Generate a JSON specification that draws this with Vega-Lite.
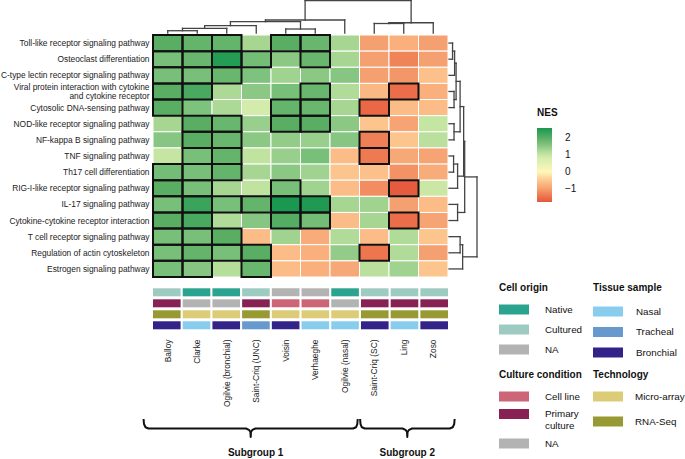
{
  "$schema": "https://vega.github.io/schema/vega-lite/v6.json",
  "width": 295,
  "height": 242,
  "autosize": {"type": "none"},
  "padding": {"left": 153, "top": 35, "right": 237, "bottom": 182},
  "background": "white",
  "config": {
    "view": {"stroke": null},
    "font": "Liberation Sans",
    "legend": {"titleFontSize": 10, "labelFontSize": 9.8, "titleColor": "#111", "labelColor": "#111", "padding": 0, "titleFontWeight": "bold"}
  },
  "datasets": {
    "heat": [
      {"pathway": "Toll-like receptor signaling pathway", "study": "Balloy", "NES": 2.0, "sig": 1},
      {"pathway": "Toll-like receptor signaling pathway", "study": "Clarke", "NES": 1.9, "sig": 1},
      {"pathway": "Toll-like receptor signaling pathway", "study": "Ogilvie (bronchial)", "NES": 1.9, "sig": 1},
      {"pathway": "Toll-like receptor signaling pathway", "study": "Saint-Criq (UNC)", "NES": 1.3, "sig": 0},
      {"pathway": "Toll-like receptor signaling pathway", "study": "Voisin", "NES": 2.0, "sig": 1},
      {"pathway": "Toll-like receptor signaling pathway", "study": "Verhaeghe", "NES": 1.85, "sig": 1},
      {"pathway": "Toll-like receptor signaling pathway", "study": "Ogilvie (nasal)", "NES": 1.3, "sig": 0},
      {"pathway": "Toll-like receptor signaling pathway", "study": "Saint-Criq (SC)", "NES": -1.0, "sig": 0},
      {"pathway": "Toll-like receptor signaling pathway", "study": "Ling", "NES": -0.8, "sig": 0},
      {"pathway": "Toll-like receptor signaling pathway", "study": "Zoso", "NES": -1.0, "sig": 0},
      {"pathway": "Osteoclast differentiation", "study": "Balloy", "NES": 1.7, "sig": 1},
      {"pathway": "Osteoclast differentiation", "study": "Clarke", "NES": 1.85, "sig": 1},
      {"pathway": "Osteoclast differentiation", "study": "Ogilvie (bronchial)", "NES": 2.5, "sig": 1},
      {"pathway": "Osteoclast differentiation", "study": "Saint-Criq (UNC)", "NES": 1.75, "sig": 1},
      {"pathway": "Osteoclast differentiation", "study": "Voisin", "NES": 1.5, "sig": 0},
      {"pathway": "Osteoclast differentiation", "study": "Verhaeghe", "NES": 1.85, "sig": 1},
      {"pathway": "Osteoclast differentiation", "study": "Ogilvie (nasal)", "NES": 1.3, "sig": 0},
      {"pathway": "Osteoclast differentiation", "study": "Saint-Criq (SC)", "NES": -1.0, "sig": 0},
      {"pathway": "Osteoclast differentiation", "study": "Ling", "NES": -1.3, "sig": 0},
      {"pathway": "Osteoclast differentiation", "study": "Zoso", "NES": -1.0, "sig": 0},
      {"pathway": "C-type lectin receptor signaling pathway", "study": "Balloy", "NES": 1.7, "sig": 1},
      {"pathway": "C-type lectin receptor signaling pathway", "study": "Clarke", "NES": 1.7, "sig": 1},
      {"pathway": "C-type lectin receptor signaling pathway", "study": "Ogilvie (bronchial)", "NES": 1.85, "sig": 1},
      {"pathway": "C-type lectin receptor signaling pathway", "study": "Saint-Criq (UNC)", "NES": 1.65, "sig": 0},
      {"pathway": "C-type lectin receptor signaling pathway", "study": "Voisin", "NES": 1.35, "sig": 0},
      {"pathway": "C-type lectin receptor signaling pathway", "study": "Verhaeghe", "NES": 1.5, "sig": 0},
      {"pathway": "C-type lectin receptor signaling pathway", "study": "Ogilvie (nasal)", "NES": 1.55, "sig": 0},
      {"pathway": "C-type lectin receptor signaling pathway", "study": "Saint-Criq (SC)", "NES": -1.0, "sig": 0},
      {"pathway": "C-type lectin receptor signaling pathway", "study": "Ling", "NES": -1.1, "sig": 0},
      {"pathway": "C-type lectin receptor signaling pathway", "study": "Zoso", "NES": -0.6, "sig": 0},
      {"pathway": "Viral protein interaction with cytokine and cytokine receptor", "study": "Balloy", "NES": 2.0, "sig": 1},
      {"pathway": "Viral protein interaction with cytokine and cytokine receptor", "study": "Clarke", "NES": 2.15, "sig": 1},
      {"pathway": "Viral protein interaction with cytokine and cytokine receptor", "study": "Ogilvie (bronchial)", "NES": 1.25, "sig": 0},
      {"pathway": "Viral protein interaction with cytokine and cytokine receptor", "study": "Saint-Criq (UNC)", "NES": 1.5, "sig": 0},
      {"pathway": "Viral protein interaction with cytokine and cytokine receptor", "study": "Voisin", "NES": 1.7, "sig": 0},
      {"pathway": "Viral protein interaction with cytokine and cytokine receptor", "study": "Verhaeghe", "NES": 1.85, "sig": 1},
      {"pathway": "Viral protein interaction with cytokine and cytokine receptor", "study": "Ogilvie (nasal)", "NES": 1.2, "sig": 0},
      {"pathway": "Viral protein interaction with cytokine and cytokine receptor", "study": "Saint-Criq (SC)", "NES": -0.7, "sig": 0},
      {"pathway": "Viral protein interaction with cytokine and cytokine receptor", "study": "Ling", "NES": -1.55, "sig": 1},
      {"pathway": "Viral protein interaction with cytokine and cytokine receptor", "study": "Zoso", "NES": -0.8, "sig": 0},
      {"pathway": "Cytosolic DNA-sensing pathway", "study": "Balloy", "NES": 2.0, "sig": 1},
      {"pathway": "Cytosolic DNA-sensing pathway", "study": "Clarke", "NES": 1.65, "sig": 0},
      {"pathway": "Cytosolic DNA-sensing pathway", "study": "Ogilvie (bronchial)", "NES": 1.25, "sig": 0},
      {"pathway": "Cytosolic DNA-sensing pathway", "study": "Saint-Criq (UNC)", "NES": 0.85, "sig": 0},
      {"pathway": "Cytosolic DNA-sensing pathway", "study": "Voisin", "NES": 1.9, "sig": 1},
      {"pathway": "Cytosolic DNA-sensing pathway", "study": "Verhaeghe", "NES": 1.85, "sig": 1},
      {"pathway": "Cytosolic DNA-sensing pathway", "study": "Ogilvie (nasal)", "NES": 1.3, "sig": 0},
      {"pathway": "Cytosolic DNA-sensing pathway", "study": "Saint-Criq (SC)", "NES": -1.6, "sig": 1},
      {"pathway": "Cytosolic DNA-sensing pathway", "study": "Ling", "NES": -0.65, "sig": 0},
      {"pathway": "Cytosolic DNA-sensing pathway", "study": "Zoso", "NES": -0.65, "sig": 0},
      {"pathway": "NOD-like receptor signaling pathway", "study": "Balloy", "NES": 1.3, "sig": 0},
      {"pathway": "NOD-like receptor signaling pathway", "study": "Clarke", "NES": 2.0, "sig": 1},
      {"pathway": "NOD-like receptor signaling pathway", "study": "Ogilvie (bronchial)", "NES": 1.85, "sig": 1},
      {"pathway": "NOD-like receptor signaling pathway", "study": "Saint-Criq (UNC)", "NES": 1.4, "sig": 0},
      {"pathway": "NOD-like receptor signaling pathway", "study": "Voisin", "NES": 2.0, "sig": 1},
      {"pathway": "NOD-like receptor signaling pathway", "study": "Verhaeghe", "NES": 2.0, "sig": 1},
      {"pathway": "NOD-like receptor signaling pathway", "study": "Ogilvie (nasal)", "NES": 1.5, "sig": 0},
      {"pathway": "NOD-like receptor signaling pathway", "study": "Saint-Criq (SC)", "NES": -0.55, "sig": 0},
      {"pathway": "NOD-like receptor signaling pathway", "study": "Ling", "NES": -0.95, "sig": 0},
      {"pathway": "NOD-like receptor signaling pathway", "study": "Zoso", "NES": 1.0, "sig": 0},
      {"pathway": "NF-kappa B signaling pathway", "study": "Balloy", "NES": 1.55, "sig": 0},
      {"pathway": "NF-kappa B signaling pathway", "study": "Clarke", "NES": 2.0, "sig": 1},
      {"pathway": "NF-kappa B signaling pathway", "study": "Ogilvie (bronchial)", "NES": 1.85, "sig": 1},
      {"pathway": "NF-kappa B signaling pathway", "study": "Saint-Criq (UNC)", "NES": 1.5, "sig": 0},
      {"pathway": "NF-kappa B signaling pathway", "study": "Voisin", "NES": 1.45, "sig": 0},
      {"pathway": "NF-kappa B signaling pathway", "study": "Verhaeghe", "NES": 1.4, "sig": 0},
      {"pathway": "NF-kappa B signaling pathway", "study": "Ogilvie (nasal)", "NES": 1.55, "sig": 0},
      {"pathway": "NF-kappa B signaling pathway", "study": "Saint-Criq (SC)", "NES": -1.35, "sig": 1},
      {"pathway": "NF-kappa B signaling pathway", "study": "Ling", "NES": -0.55, "sig": 0},
      {"pathway": "NF-kappa B signaling pathway", "study": "Zoso", "NES": 1.1, "sig": 0},
      {"pathway": "TNF signaling pathway", "study": "Balloy", "NES": 1.0, "sig": 0},
      {"pathway": "TNF signaling pathway", "study": "Clarke", "NES": 1.7, "sig": 1},
      {"pathway": "TNF signaling pathway", "study": "Ogilvie (bronchial)", "NES": 1.9, "sig": 1},
      {"pathway": "TNF signaling pathway", "study": "Saint-Criq (UNC)", "NES": 1.05, "sig": 0},
      {"pathway": "TNF signaling pathway", "study": "Voisin", "NES": 1.4, "sig": 0},
      {"pathway": "TNF signaling pathway", "study": "Verhaeghe", "NES": 1.7, "sig": 0},
      {"pathway": "TNF signaling pathway", "study": "Ogilvie (nasal)", "NES": -0.65, "sig": 0},
      {"pathway": "TNF signaling pathway", "study": "Saint-Criq (SC)", "NES": -1.4, "sig": 1},
      {"pathway": "TNF signaling pathway", "study": "Ling", "NES": -0.9, "sig": 0},
      {"pathway": "TNF signaling pathway", "study": "Zoso", "NES": -0.95, "sig": 0},
      {"pathway": "Th17 cell differentiation", "study": "Balloy", "NES": 1.75, "sig": 1},
      {"pathway": "Th17 cell differentiation", "study": "Clarke", "NES": 1.7, "sig": 1},
      {"pathway": "Th17 cell differentiation", "study": "Ogilvie (bronchial)", "NES": 1.9, "sig": 1},
      {"pathway": "Th17 cell differentiation", "study": "Saint-Criq (UNC)", "NES": 1.3, "sig": 0},
      {"pathway": "Th17 cell differentiation", "study": "Voisin", "NES": 1.5, "sig": 0},
      {"pathway": "Th17 cell differentiation", "study": "Verhaeghe", "NES": 1.35, "sig": 0},
      {"pathway": "Th17 cell differentiation", "study": "Ogilvie (nasal)", "NES": -0.55, "sig": 0},
      {"pathway": "Th17 cell differentiation", "study": "Saint-Criq (SC)", "NES": -0.6, "sig": 0},
      {"pathway": "Th17 cell differentiation", "study": "Ling", "NES": -1.15, "sig": 0},
      {"pathway": "Th17 cell differentiation", "study": "Zoso", "NES": -0.85, "sig": 0},
      {"pathway": "RIG-I-like receptor signaling pathway", "study": "Balloy", "NES": 2.0, "sig": 1},
      {"pathway": "RIG-I-like receptor signaling pathway", "study": "Clarke", "NES": 1.7, "sig": 1},
      {"pathway": "RIG-I-like receptor signaling pathway", "study": "Ogilvie (bronchial)", "NES": 1.3, "sig": 0},
      {"pathway": "RIG-I-like receptor signaling pathway", "study": "Saint-Criq (UNC)", "NES": 1.05, "sig": 0},
      {"pathway": "RIG-I-like receptor signaling pathway", "study": "Voisin", "NES": 1.7, "sig": 1},
      {"pathway": "RIG-I-like receptor signaling pathway", "study": "Verhaeghe", "NES": 1.35, "sig": 0},
      {"pathway": "RIG-I-like receptor signaling pathway", "study": "Ogilvie (nasal)", "NES": -0.65, "sig": 0},
      {"pathway": "RIG-I-like receptor signaling pathway", "study": "Saint-Criq (SC)", "NES": -1.2, "sig": 0},
      {"pathway": "RIG-I-like receptor signaling pathway", "study": "Ling", "NES": -1.75, "sig": 1},
      {"pathway": "RIG-I-like receptor signaling pathway", "study": "Zoso", "NES": 0.95, "sig": 0},
      {"pathway": "IL-17 signaling pathway", "study": "Balloy", "NES": 1.7, "sig": 1},
      {"pathway": "IL-17 signaling pathway", "study": "Clarke", "NES": 2.3, "sig": 1},
      {"pathway": "IL-17 signaling pathway", "study": "Ogilvie (bronchial)", "NES": 1.7, "sig": 1},
      {"pathway": "IL-17 signaling pathway", "study": "Saint-Criq (UNC)", "NES": 1.9, "sig": 1},
      {"pathway": "IL-17 signaling pathway", "study": "Voisin", "NES": 2.6, "sig": 1},
      {"pathway": "IL-17 signaling pathway", "study": "Verhaeghe", "NES": 2.55, "sig": 1},
      {"pathway": "IL-17 signaling pathway", "study": "Ogilvie (nasal)", "NES": 1.3, "sig": 0},
      {"pathway": "IL-17 signaling pathway", "study": "Saint-Criq (SC)", "NES": 1.35, "sig": 0},
      {"pathway": "IL-17 signaling pathway", "study": "Ling", "NES": -1.0, "sig": 0},
      {"pathway": "IL-17 signaling pathway", "study": "Zoso", "NES": -0.65, "sig": 0},
      {"pathway": "Cytokine-cytokine receptor interaction", "study": "Balloy", "NES": 2.0, "sig": 1},
      {"pathway": "Cytokine-cytokine receptor interaction", "study": "Clarke", "NES": 2.15, "sig": 1},
      {"pathway": "Cytokine-cytokine receptor interaction", "study": "Ogilvie (bronchial)", "NES": 1.2, "sig": 0},
      {"pathway": "Cytokine-cytokine receptor interaction", "study": "Saint-Criq (UNC)", "NES": 1.55, "sig": 0},
      {"pathway": "Cytokine-cytokine receptor interaction", "study": "Voisin", "NES": 2.05, "sig": 1},
      {"pathway": "Cytokine-cytokine receptor interaction", "study": "Verhaeghe", "NES": 1.75, "sig": 1},
      {"pathway": "Cytokine-cytokine receptor interaction", "study": "Ogilvie (nasal)", "NES": -0.65, "sig": 0},
      {"pathway": "Cytokine-cytokine receptor interaction", "study": "Saint-Criq (SC)", "NES": 1.3, "sig": 0},
      {"pathway": "Cytokine-cytokine receptor interaction", "study": "Ling", "NES": -1.55, "sig": 1},
      {"pathway": "Cytokine-cytokine receptor interaction", "study": "Zoso", "NES": -0.95, "sig": 0},
      {"pathway": "T cell receptor signaling pathway", "study": "Balloy", "NES": 1.7, "sig": 1},
      {"pathway": "T cell receptor signaling pathway", "study": "Clarke", "NES": 1.7, "sig": 1},
      {"pathway": "T cell receptor signaling pathway", "study": "Ogilvie (bronchial)", "NES": 2.0, "sig": 1},
      {"pathway": "T cell receptor signaling pathway", "study": "Saint-Criq (UNC)", "NES": -0.65, "sig": 0},
      {"pathway": "T cell receptor signaling pathway", "study": "Voisin", "NES": 1.35, "sig": 0},
      {"pathway": "T cell receptor signaling pathway", "study": "Verhaeghe", "NES": -0.85, "sig": 0},
      {"pathway": "T cell receptor signaling pathway", "study": "Ogilvie (nasal)", "NES": 1.2, "sig": 0},
      {"pathway": "T cell receptor signaling pathway", "study": "Saint-Criq (SC)", "NES": -0.65, "sig": 0},
      {"pathway": "T cell receptor signaling pathway", "study": "Ling", "NES": 1.2, "sig": 0},
      {"pathway": "T cell receptor signaling pathway", "study": "Zoso", "NES": -0.55, "sig": 0},
      {"pathway": "Regulation of actin cytoskeleton", "study": "Balloy", "NES": 1.7, "sig": 1},
      {"pathway": "Regulation of actin cytoskeleton", "study": "Clarke", "NES": 1.9, "sig": 1},
      {"pathway": "Regulation of actin cytoskeleton", "study": "Ogilvie (bronchial)", "NES": 1.7, "sig": 1},
      {"pathway": "Regulation of actin cytoskeleton", "study": "Saint-Criq (UNC)", "NES": 2.0, "sig": 1},
      {"pathway": "Regulation of actin cytoskeleton", "study": "Voisin", "NES": -0.65, "sig": 0},
      {"pathway": "Regulation of actin cytoskeleton", "study": "Verhaeghe", "NES": -0.8, "sig": 0},
      {"pathway": "Regulation of actin cytoskeleton", "study": "Ogilvie (nasal)", "NES": 1.45, "sig": 0},
      {"pathway": "Regulation of actin cytoskeleton", "study": "Saint-Criq (SC)", "NES": -1.45, "sig": 1},
      {"pathway": "Regulation of actin cytoskeleton", "study": "Ling", "NES": 1.2, "sig": 0},
      {"pathway": "Regulation of actin cytoskeleton", "study": "Zoso", "NES": -1.0, "sig": 0},
      {"pathway": "Estrogen signaling pathway", "study": "Balloy", "NES": 1.7, "sig": 1},
      {"pathway": "Estrogen signaling pathway", "study": "Clarke", "NES": 1.55, "sig": 1},
      {"pathway": "Estrogen signaling pathway", "study": "Ogilvie (bronchial)", "NES": 1.15, "sig": 0},
      {"pathway": "Estrogen signaling pathway", "study": "Saint-Criq (UNC)", "NES": 1.85, "sig": 1},
      {"pathway": "Estrogen signaling pathway", "study": "Voisin", "NES": -0.65, "sig": 0},
      {"pathway": "Estrogen signaling pathway", "study": "Verhaeghe", "NES": -0.8, "sig": 0},
      {"pathway": "Estrogen signaling pathway", "study": "Ogilvie (nasal)", "NES": -0.9, "sig": 0},
      {"pathway": "Estrogen signaling pathway", "study": "Saint-Criq (SC)", "NES": 1.1, "sig": 0},
      {"pathway": "Estrogen signaling pathway", "study": "Ling", "NES": 1.35, "sig": 0},
      {"pathway": "Estrogen signaling pathway", "study": "Zoso", "NES": -0.55, "sig": 0}
    ],
    "annot": [
      {"study": "Balloy", "cell_origin": "Cultured", "culture": "Primary culture", "technology": "RNA-Seq", "tissue": "Bronchial"},
      {"study": "Clarke", "cell_origin": "Native", "culture": "NA", "technology": "Micro-array", "tissue": "Nasal"},
      {"study": "Ogilvie (bronchial)", "cell_origin": "Native", "culture": "NA", "technology": "Micro-array", "tissue": "Bronchial"},
      {"study": "Saint-Criq (UNC)", "cell_origin": "Cultured", "culture": "Primary culture", "technology": "RNA-Seq", "tissue": "Tracheal"},
      {"study": "Voisin", "cell_origin": "NA", "culture": "Cell line", "technology": "Micro-array", "tissue": "Bronchial"},
      {"study": "Verhaeghe", "cell_origin": "NA", "culture": "Cell line", "technology": "Micro-array", "tissue": "Nasal"},
      {"study": "Ogilvie (nasal)", "cell_origin": "Native", "culture": "NA", "technology": "Micro-array", "tissue": "Nasal"},
      {"study": "Saint-Criq (SC)", "cell_origin": "Cultured", "culture": "Primary culture", "technology": "RNA-Seq", "tissue": "Bronchial"},
      {"study": "Ling", "cell_origin": "Cultured", "culture": "Primary culture", "technology": "RNA-Seq", "tissue": "Nasal"},
      {"study": "Zoso", "cell_origin": "Cultured", "culture": "Primary culture", "technology": "RNA-Seq", "tissue": "Bronchial"}
    ],
    "coldendro": [
      {"pos1": 0.5, "pos2": 0.5, "h1": 0, "h2": 0.24},
      {"pos1": 1.5, "pos2": 1.5, "h1": 0, "h2": 0.24},
      {"pos1": 0.5, "pos2": 1.5, "h1": 0.24, "h2": 0.24},
      {"pos1": 1.0, "pos2": 1.0, "h1": 0.24, "h2": 0.49},
      {"pos1": 2.5, "pos2": 2.5, "h1": 0, "h2": 0.49},
      {"pos1": 1.0, "pos2": 2.5, "h1": 0.49, "h2": 0.49},
      {"pos1": 1.75, "pos2": 1.75, "h1": 0.49, "h2": 0.77},
      {"pos1": 3.5, "pos2": 3.5, "h1": 0, "h2": 0.77},
      {"pos1": 1.75, "pos2": 3.5, "h1": 0.77, "h2": 0.77},
      {"pos1": 4.5, "pos2": 4.5, "h1": 0, "h2": 0.42},
      {"pos1": 5.5, "pos2": 5.5, "h1": 0, "h2": 0.42},
      {"pos1": 4.5, "pos2": 5.5, "h1": 0.42, "h2": 0.42},
      {"pos1": 2.625, "pos2": 2.625, "h1": 0.77, "h2": 1.19},
      {"pos1": 5.0, "pos2": 5.0, "h1": 0.42, "h2": 1.19},
      {"pos1": 2.625, "pos2": 5.0, "h1": 1.19, "h2": 1.19},
      {"pos1": 3.8125, "pos2": 3.8125, "h1": 1.19, "h2": 1.37},
      {"pos1": 6.5, "pos2": 6.5, "h1": 0, "h2": 1.37},
      {"pos1": 3.8125, "pos2": 6.5, "h1": 1.37, "h2": 1.37},
      {"pos1": 7.5, "pos2": 7.5, "h1": 0, "h2": 1.0},
      {"pos1": 8.5, "pos2": 8.5, "h1": 0, "h2": 1.0},
      {"pos1": 7.5, "pos2": 8.5, "h1": 1.0, "h2": 1.0},
      {"pos1": 8.0, "pos2": 8.0, "h1": 1.0, "h2": 1.08},
      {"pos1": 9.5, "pos2": 9.5, "h1": 0, "h2": 1.08},
      {"pos1": 8.0, "pos2": 9.5, "h1": 1.08, "h2": 1.08},
      {"pos1": 5.156, "pos2": 5.156, "h1": 1.37, "h2": 3.4},
      {"pos1": 8.75, "pos2": 8.75, "h1": 1.08, "h2": 3.4},
      {"pos1": 5.156, "pos2": 8.75, "h1": 3.4, "h2": 3.4}
    ],
    "rowdendro": [
      {"pos1": 0.5, "pos2": 0.5, "h1": 0, "h2": 0.38},
      {"pos1": 1.5, "pos2": 1.5, "h1": 0, "h2": 0.38},
      {"pos1": 0.5, "pos2": 1.5, "h1": 0.38, "h2": 0.38},
      {"pos1": 1.0, "pos2": 1.0, "h1": 0.38, "h2": 0.6},
      {"pos1": 2.5, "pos2": 2.5, "h1": 0, "h2": 0.6},
      {"pos1": 1.0, "pos2": 2.5, "h1": 0.6, "h2": 0.6},
      {"pos1": 3.5, "pos2": 3.5, "h1": 0, "h2": 0.54},
      {"pos1": 4.5, "pos2": 4.5, "h1": 0, "h2": 0.54},
      {"pos1": 3.5, "pos2": 4.5, "h1": 0.54, "h2": 0.54},
      {"pos1": 1.75, "pos2": 1.75, "h1": 0.6, "h2": 0.76},
      {"pos1": 4.0, "pos2": 4.0, "h1": 0.54, "h2": 0.76},
      {"pos1": 1.75, "pos2": 4.0, "h1": 0.76, "h2": 0.76},
      {"pos1": 5.5, "pos2": 5.5, "h1": 0, "h2": 0.54},
      {"pos1": 6.5, "pos2": 6.5, "h1": 0, "h2": 0.54},
      {"pos1": 5.5, "pos2": 6.5, "h1": 0.54, "h2": 0.54},
      {"pos1": 2.875, "pos2": 2.875, "h1": 0.76, "h2": 1.19},
      {"pos1": 6.0, "pos2": 6.0, "h1": 0.54, "h2": 1.19},
      {"pos1": 2.875, "pos2": 6.0, "h1": 1.19, "h2": 1.19},
      {"pos1": 7.5, "pos2": 7.5, "h1": 0, "h2": 0.49},
      {"pos1": 8.5, "pos2": 8.5, "h1": 0, "h2": 0.49},
      {"pos1": 7.5, "pos2": 8.5, "h1": 0.49, "h2": 0.49},
      {"pos1": 8.0, "pos2": 8.0, "h1": 0.49, "h2": 0.92},
      {"pos1": 9.5, "pos2": 9.5, "h1": 0, "h2": 0.92},
      {"pos1": 8.0, "pos2": 9.5, "h1": 0.92, "h2": 0.92},
      {"pos1": 4.4375, "pos2": 4.4375, "h1": 1.19, "h2": 1.57},
      {"pos1": 8.75, "pos2": 8.75, "h1": 0.92, "h2": 1.57},
      {"pos1": 4.4375, "pos2": 8.75, "h1": 1.57, "h2": 1.57},
      {"pos1": 10.5, "pos2": 10.5, "h1": 0, "h2": 0.92},
      {"pos1": 11.5, "pos2": 11.5, "h1": 0, "h2": 0.92},
      {"pos1": 10.5, "pos2": 11.5, "h1": 0.92, "h2": 0.92},
      {"pos1": 6.594, "pos2": 6.594, "h1": 1.57, "h2": 1.68},
      {"pos1": 11.0, "pos2": 11.0, "h1": 0.92, "h2": 1.68},
      {"pos1": 6.594, "pos2": 11.0, "h1": 1.68, "h2": 1.68},
      {"pos1": 12.5, "pos2": 12.5, "h1": 0, "h2": 1.19},
      {"pos1": 13.5, "pos2": 13.5, "h1": 0, "h2": 1.19},
      {"pos1": 12.5, "pos2": 13.5, "h1": 1.19, "h2": 1.19},
      {"pos1": 13.0, "pos2": 13.0, "h1": 1.19, "h2": 1.46},
      {"pos1": 14.5, "pos2": 14.5, "h1": 0, "h2": 1.46},
      {"pos1": 13.0, "pos2": 14.5, "h1": 1.46, "h2": 1.46},
      {"pos1": 8.797, "pos2": 8.797, "h1": 1.68, "h2": 3.0},
      {"pos1": 13.75, "pos2": 13.75, "h1": 1.46, "h2": 3.0},
      {"pos1": 8.797, "pos2": 13.75, "h1": 3.0, "h2": 3.0}
    ],
    "braces": [
      {"group": "Subgroup 1", "i": 0, "x": -0.32, "v": 0},
      {"group": "Subgroup 1", "i": 1, "x": -0.305, "v": 0.28},
      {"group": "Subgroup 1", "i": 2, "x": -0.254, "v": 0.46},
      {"group": "Subgroup 1", "i": 3, "x": -0.153, "v": 0.53},
      {"group": "Subgroup 1", "i": 4, "x": 3.153, "v": 0.53},
      {"group": "Subgroup 1", "i": 5, "x": 3.254, "v": 0.6},
      {"group": "Subgroup 1", "i": 6, "x": 3.302, "v": 0.72},
      {"group": "Subgroup 1", "i": 7, "x": 3.312, "v": 1.0},
      {"group": "Subgroup 1", "i": 8, "x": 3.322, "v": 0.72},
      {"group": "Subgroup 1", "i": 9, "x": 3.369, "v": 0.6},
      {"group": "Subgroup 1", "i": 10, "x": 3.471, "v": 0.53},
      {"group": "Subgroup 1", "i": 11, "x": 6.78, "v": 0.53},
      {"group": "Subgroup 1", "i": 12, "x": 6.881, "v": 0.46},
      {"group": "Subgroup 1", "i": 13, "x": 6.925, "v": 0.28},
      {"group": "Subgroup 1", "i": 14, "x": 6.94, "v": 0},
      {"group": "Subgroup 2", "i": 0, "x": 7.02, "v": 0},
      {"group": "Subgroup 2", "i": 1, "x": 7.035, "v": 0.28},
      {"group": "Subgroup 2", "i": 2, "x": 7.08, "v": 0.46},
      {"group": "Subgroup 2", "i": 3, "x": 7.18, "v": 0.53},
      {"group": "Subgroup 2", "i": 4, "x": 8.46, "v": 0.53},
      {"group": "Subgroup 2", "i": 5, "x": 8.56, "v": 0.6},
      {"group": "Subgroup 2", "i": 6, "x": 8.61, "v": 0.72},
      {"group": "Subgroup 2", "i": 7, "x": 8.62, "v": 1.0},
      {"group": "Subgroup 2", "i": 8, "x": 8.63, "v": 0.72},
      {"group": "Subgroup 2", "i": 9, "x": 8.68, "v": 0.6},
      {"group": "Subgroup 2", "i": 10, "x": 8.78, "v": 0.53},
      {"group": "Subgroup 2", "i": 11, "x": 10.06, "v": 0.53},
      {"group": "Subgroup 2", "i": 12, "x": 10.16, "v": 0.46},
      {"group": "Subgroup 2", "i": 13, "x": 10.21, "v": 0.28},
      {"group": "Subgroup 2", "i": 14, "x": 10.225, "v": 0}
    ],
    "groups": [
      {"group": "Subgroup 1", "center": 3.48},
      {"group": "Subgroup 2", "center": 8.62}
    ]
  },
  "layer": [
    {
      "data": {"name": "heat"},
      "mark": {"type": "rect", "stroke": "white", "strokeWidth": 1},
      "encoding": {
        "x": {"field": "study", "type": "nominal",
          "scale": {"domain": ["Balloy", "Clarke", "Ogilvie (bronchial)", "Saint-Criq (UNC)", "Voisin", "Verhaeghe", "Ogilvie (nasal)", "Saint-Criq (SC)", "Ling", "Zoso"], "paddingInner": 0, "paddingOuter": 0},
          "axis": {"orient": "bottom", "offset": 60, "labelAngle": -90, "labelPadding": 2, "ticks": false, "domain": false, "title": null, "labelFontSize": 8.4, "labelColor": "#222", "grid": false}},
        "y": {"field": "pathway", "type": "nominal",
          "scale": {"domain": ["Toll-like receptor signaling pathway", "Osteoclast differentiation", "C-type lectin receptor signaling pathway", "Viral protein interaction with cytokine and cytokine receptor", "Cytosolic DNA-sensing pathway", "NOD-like receptor signaling pathway", "NF-kappa B signaling pathway", "TNF signaling pathway", "Th17 cell differentiation", "RIG-I-like receptor signaling pathway", "IL-17 signaling pathway", "Cytokine-cytokine receptor interaction", "T cell receptor signaling pathway", "Regulation of actin cytoskeleton", "Estrogen signaling pathway"], "paddingInner": 0, "paddingOuter": 0},
          "axis": {"orient": "left", "labelPadding": 4, "ticks": false, "domain": false, "title": null, "labelFontSize": 8.4, "labelColor": "#222", "labelLimit": 300, "labelLineHeight": 9.5, "grid": false,
            "labelOffset": {"condition": {"test": "datum.label == 'Viral protein interaction with cytokine and cytokine receptor'", "value": -4.75}, "value": 0},
            "labelExpr": "datum.label == 'Viral protein interaction with cytokine and cytokine receptor' ? ['Viral protein interaction with cytokine', 'and cytokine receptor'] : datum.label"}},
        "color": {"field": "NES", "type": "quantitative",
          "scale": {"domain": [-1.8, -1.4, -1.0, -0.6, 0, 0.85, 1.0, 1.3, 1.5, 1.7, 2.0, 2.3, 2.6],
            "range": ["#e5573a", "#ee7a52", "#f5a070", "#fcc08a", "#fef7b8", "#d4ecab", "#c5e5a3", "#a7d693", "#8bc884", "#78c07a", "#5aae64", "#3aa35c", "#1b9850"],
            "interpolate": "rgb"},
          "legend": {"title": "NES", "orient": "none", "legendX": 384, "legendY": 73, "direction": "vertical", "gradientLength": 74, "gradientThickness": 15, "values": [-1, 0, 1, 2], "labelOffset": 13, "labelFontSize": 10, "titlePadding": 10, "gradientStrokeWidth": 0}}
      }
    },
    {
      "data": {"name": "heat"},
      "transform": [{"filter": "datum.sig == 1"}],
      "mark": {"type": "rect", "filled": false, "stroke": "#111", "strokeWidth": 2},
      "encoding": {
        "x": {"field": "study", "type": "nominal",
          "scale": {"domain": ["Balloy", "Clarke", "Ogilvie (bronchial)", "Saint-Criq (UNC)", "Voisin", "Verhaeghe", "Ogilvie (nasal)", "Saint-Criq (SC)", "Ling", "Zoso"], "paddingInner": 0, "paddingOuter": 0}, "axis": null},
        "y": {"field": "pathway", "type": "nominal",
          "scale": {"domain": ["Toll-like receptor signaling pathway", "Osteoclast differentiation", "C-type lectin receptor signaling pathway", "Viral protein interaction with cytokine and cytokine receptor", "Cytosolic DNA-sensing pathway", "NOD-like receptor signaling pathway", "NF-kappa B signaling pathway", "TNF signaling pathway", "Th17 cell differentiation", "RIG-I-like receptor signaling pathway", "IL-17 signaling pathway", "Cytokine-cytokine receptor interaction", "T cell receptor signaling pathway", "Regulation of actin cytoskeleton", "Estrogen signaling pathway"], "paddingInner": 0, "paddingOuter": 0}, "axis": null}
      }
    },
    {
      "data": {"name": "annot"},
      "mark": {"type": "rect"},
      "encoding": {
        "x": {"field": "study", "type": "nominal", "scale": {"domain": ["Balloy", "Clarke", "Ogilvie (bronchial)", "Saint-Criq (UNC)", "Voisin", "Verhaeghe", "Ogilvie (nasal)", "Saint-Criq (SC)", "Ling", "Zoso"], "paddingInner": 0.07, "paddingOuter": 0}, "axis": null},
        "y": {"datum": "Cell origin", "type": "nominal", "scale": {"domain": ["Cell origin", "Culture condition", "Technology", "Tissue sample"], "range": [253.3, 294.3], "paddingInner": 0.27, "paddingOuter": 0}, "axis": null},
        "color": {"field": "cell_origin", "type": "nominal", "scale": {"domain": ["Native", "Cultured", "NA"], "range": ["#2aa38f", "#9dcbc1", "#b3b3b3"]},
          "legend": {"title": "Cell origin", "orient": "none", "legendX": 346, "legendY": 247.5, "symbolType": "M-1.5,-0.5H1.5V0.5H-1.5Z", "symbolSize": 400, "symbolOffset": 5, "symbolStrokeWidth": 0, "symbolOpacity": 1, "labelOffset": 21, "rowPadding": 5, "titlePadding": 7}}
      }
    },
    {
      "data": {"name": "annot"},
      "mark": {"type": "rect"},
      "encoding": {
        "x": {"field": "study", "type": "nominal", "scale": {"domain": ["Balloy", "Clarke", "Ogilvie (bronchial)", "Saint-Criq (UNC)", "Voisin", "Verhaeghe", "Ogilvie (nasal)", "Saint-Criq (SC)", "Ling", "Zoso"], "paddingInner": 0.07, "paddingOuter": 0}, "axis": null},
        "y": {"datum": "Culture condition", "type": "nominal", "scale": {"domain": ["Cell origin", "Culture condition", "Technology", "Tissue sample"], "range": [253.3, 294.3], "paddingInner": 0.27, "paddingOuter": 0}, "axis": null},
        "color": {"field": "culture", "type": "nominal", "scale": {"domain": ["Cell line", "Primary culture", "NA"], "range": ["#cc6677", "#882255", "#b3b3b3"]},
          "legend": {"title": "Culture condition", "orient": "none", "legendX": 346, "legendY": 334.5, "symbolType": "M-1.5,-0.5H1.5V0.5H-1.5Z", "symbolSize": 400, "symbolOffset": 5, "symbolStrokeWidth": 0, "symbolOpacity": 1, "labelOffset": 21, "rowPadding": 2.5, "titlePadding": 7,
            "labelExpr": "datum.label == 'Primary culture' ? ['Primary', 'culture'] : datum.label"}}
      }
    },
    {
      "data": {"name": "annot"},
      "mark": {"type": "rect"},
      "encoding": {
        "x": {"field": "study", "type": "nominal", "scale": {"domain": ["Balloy", "Clarke", "Ogilvie (bronchial)", "Saint-Criq (UNC)", "Voisin", "Verhaeghe", "Ogilvie (nasal)", "Saint-Criq (SC)", "Ling", "Zoso"], "paddingInner": 0.07, "paddingOuter": 0}, "axis": null},
        "y": {"datum": "Technology", "type": "nominal", "scale": {"domain": ["Cell origin", "Culture condition", "Technology", "Tissue sample"], "range": [253.3, 294.3], "paddingInner": 0.27, "paddingOuter": 0}, "axis": null},
        "color": {"field": "technology", "type": "nominal", "scale": {"domain": ["Micro-array", "RNA-Seq"], "range": ["#ddcc77", "#999933"]},
          "legend": {"title": "Technology", "orient": "none", "legendX": 440, "legendY": 334.5, "symbolType": "M-1.5,-0.5H1.5V0.5H-1.5Z", "symbolSize": 400, "symbolOffset": 5, "symbolStrokeWidth": 0, "symbolOpacity": 1, "labelOffset": 17, "labelLimit": 200, "rowPadding": 10, "titlePadding": 7}}
      }
    },
    {
      "data": {"name": "annot"},
      "mark": {"type": "rect"},
      "encoding": {
        "x": {"field": "study", "type": "nominal", "scale": {"domain": ["Balloy", "Clarke", "Ogilvie (bronchial)", "Saint-Criq (UNC)", "Voisin", "Verhaeghe", "Ogilvie (nasal)", "Saint-Criq (SC)", "Ling", "Zoso"], "paddingInner": 0.07, "paddingOuter": 0}, "axis": null},
        "y": {"datum": "Tissue sample", "type": "nominal", "scale": {"domain": ["Cell origin", "Culture condition", "Technology", "Tissue sample"], "range": [253.3, 294.3], "paddingInner": 0.27, "paddingOuter": 0}, "axis": null},
        "color": {"field": "tissue", "type": "nominal", "scale": {"domain": ["Nasal", "Tracheal", "Bronchial"], "range": ["#88ccee", "#6699cc", "#332288"]},
          "legend": {"title": "Tissue sample", "orient": "none", "legendX": 440, "legendY": 247.5, "symbolType": "M-1.5,-0.5H1.5V0.5H-1.5Z", "symbolSize": 400, "symbolOffset": 5, "symbolStrokeWidth": 0, "symbolOpacity": 1, "labelOffset": 18, "rowPadding": 5.5, "titlePadding": 9}}
      }
    },
    {
      "data": {"name": "coldendro"},
      "mark": {"type": "rule", "color": "#444", "strokeWidth": 1.3, "strokeCap": "square"},
      "encoding": {
        "x": {"field": "pos1", "type": "quantitative", "scale": {"domain": [0, 10], "range": [0, 295], "nice": false, "zero": false}, "axis": null},
        "x2": {"field": "pos2"},
        "y": {"field": "h1", "type": "quantitative", "scale": {"domain": [0, 3.4], "range": [-2, -34.3], "nice": false, "zero": false}, "axis": null},
        "y2": {"field": "h2"}
      }
    },
    {
      "data": {"name": "rowdendro"},
      "mark": {"type": "rule", "color": "#444", "strokeWidth": 1.3, "strokeCap": "square"},
      "encoding": {
        "y": {"field": "pos1", "type": "quantitative", "scale": {"domain": [0, 15], "range": [0, 242], "nice": false, "zero": false}, "axis": null},
        "y2": {"field": "pos2"},
        "x": {"field": "h1", "type": "quantitative", "scale": {"domain": [0, 3], "range": [296, 324], "nice": false, "zero": false}, "axis": null},
        "x2": {"field": "h2"}
      }
    },
    {
      "data": {"name": "braces"},
      "mark": {"type": "line", "color": "#111", "strokeWidth": 2, "strokeJoin": "round"},
      "encoding": {
        "x": {"field": "x", "type": "quantitative", "scale": {"domain": [0, 10], "range": [0, 295], "nice": false, "zero": false}, "axis": null},
        "y": {"field": "v", "type": "quantitative", "scale": {"domain": [0, 1], "range": [384, 402], "nice": false, "zero": false}, "axis": null},
        "detail": {"field": "group", "type": "nominal"},
        "order": {"field": "i", "type": "quantitative"}
      }
    },
    {
      "data": {"name": "groups"},
      "mark": {"type": "text", "fontWeight": "bold", "fontSize": 10, "color": "#111", "dy": 15.7},
      "encoding": {
        "x": {"field": "center", "type": "quantitative", "scale": {"domain": [0, 10], "range": [0, 295], "nice": false, "zero": false}, "axis": null},
        "y": {"datum": 1, "type": "quantitative", "scale": {"domain": [0, 1], "range": [384, 402], "nice": false, "zero": false}, "axis": null},
        "text": {"field": "group", "type": "nominal"}
      }
    }
  ],
  "resolve": {"scale": {"x": "independent", "y": "independent", "color": "independent"}}
}
